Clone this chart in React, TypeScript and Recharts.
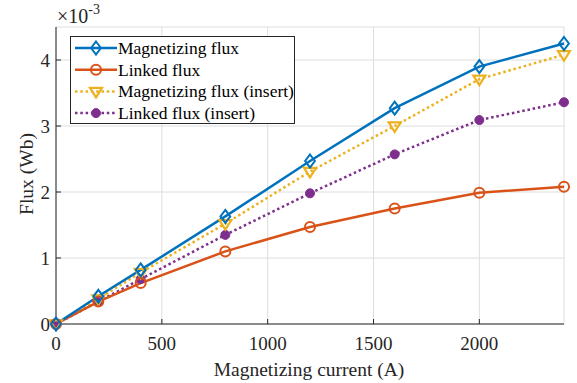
import { LineChart, Line, XAxis, YAxis, CartesianGrid } from "recharts";

// magnetizing current (A)
const currents = [0, 200, 400, 800, 1200, 1600, 2000, 2400];
// flux values, in units of 1e-3 Wb
const magnetizingFlux = [0, 0.42, 0.82, 1.63, 2.47, 3.27, 3.9, 4.25];
const linkedFlux = [0, 0.34, 0.62, 1.1, 1.47, 1.75, 1.99, 2.08];
const magnetizingFluxInsert = [0, 0.38, 0.78, 1.52, 2.31, 3.0, 3.71, 4.08];
const linkedFluxInsert = [0, 0.34, 0.68, 1.35, 1.98, 2.57, 3.09, 3.36];

const xTicks = [0, 500, 1000, 1500, 2000];
const yTicks = [0, 1, 2, 3, 4];

const seriesNames = [
  "Magnetizing flux",
  "Linked flux",
  "Magnetizing flux (insert)",
  "Linked flux (insert)",
];

const BLUE = "#0072BD";
const ORANGE = "#D95319";
const YELLOW = "#EDB120";
const PURPLE = "#7E2F8E";
const AXIS = "#262626";
const FONT = "Liberation Serif, Times New Roman, serif";
const DOTTED = "2.5 2.8";

const data = currents.map((c, i) => ({
  current: c,
  mag: magnetizingFlux[i],
  linked: linkedFlux[i],
  magIns: magnetizingFluxInsert[i],
  linkedIns: linkedFluxInsert[i],
}));

type Shape = "diamond" | "circle" | "triangle" | "dot";

function marker(shape: Shape, color: string, cx: number, cy: number, key?: string) {
  if (shape === "diamond") {
    const r = 6.5;
    return (
      <path
        key={key}
        d={`M${cx},${cy - r} L${cx + r * 0.75},${cy} L${cx},${cy + r} L${cx - r * 0.75},${cy} Z`}
        fill="none"
        stroke={color}
        strokeWidth={2}
      />
    );
  }
  if (shape === "circle") {
    return <circle key={key} cx={cx} cy={cy} r={5} fill="none" stroke={color} strokeWidth={2} />;
  }
  if (shape === "triangle") {
    const r = 6;
    return (
      <path
        key={key}
        d={`M${cx - r},${cy - r * 0.6} L${cx + r},${cy - r * 0.6} L${cx},${cy + r} Z`}
        fill="none"
        stroke={color}
        strokeWidth={2.2}
      />
    );
  }
  return <circle key={key} cx={cx} cy={cy} r={4.5} fill={color} stroke={color} />;
}

const dotFn = (shape: Shape, color: string) => (p: any) =>
  marker(shape, color, p.cx, p.cy, `${shape}-${p.index}`);

const legendItems: { name: string; color: string; shape: Shape; dash?: string }[] = [
  { name: seriesNames[0], color: BLUE, shape: "diamond" },
  { name: seriesNames[1], color: ORANGE, shape: "circle" },
  { name: seriesNames[2], color: YELLOW, shape: "triangle", dash: DOTTED },
  { name: seriesNames[3], color: PURPLE, shape: "dot", dash: DOTTED },
];

const textStyle = { fontFamily: FONT };

function LegendBox() {
  return (
    <div
      style={{
        position: "absolute",
        left: 70,
        top: 36,
        width: 225,
        height: 88,
        background: "#fff",
        border: `1px solid ${AXIS}`,
        boxSizing: "border-box",
      }}
    >
      <svg width={223} height={86} style={{ position: "absolute", left: 0, top: 0 }}>
        {legendItems.map((it, i) => {
          const y = 11 + i * 21.7;
          return (
            <g key={it.name}>
              <line
                x1={4}
                x2={46}
                y1={y}
                y2={y}
                stroke={it.color}
                strokeWidth={2.5}
                strokeDasharray={it.dash}
              />
              {marker(it.shape, it.color, 25, y)}
              <text x={47} y={y + 6} style={textStyle} fontSize={17.5} fill="#000">
                {it.name}
              </text>
            </g>
          );
        })}
      </svg>
    </div>
  );
}

const emptyTick = () => <g />;

export default function App() {
  return (
    <div
      style={{
        position: "absolute",
        left: 0,
        top: 0,
        width: 577,
        height: 383,
        background: "#fff",
        fontFamily: FONT,
      }}
    >
      <LineChart
        width={577}
        height={383}
        data={data}
        margin={{ top: 27, right: 13, bottom: 0, left: 0 }}
        style={textStyle}
      >
        <CartesianGrid stroke="#dedede" strokeWidth={1} />
        <XAxis
          dataKey="current"
          type="number"
          domain={[0, 2400]}
          ticks={xTicks}
          height={59}
          stroke={AXIS}
          tickSize={-5}
          tickMargin={18}
          tick={{ fill: AXIS, fontSize: 19, style: textStyle }}
          label={{
            content: () => (
              <text x={309} y={376} textAnchor="middle" style={textStyle} fontSize={19.5} fill={AXIS}>
                Magnetizing current (A)
              </text>
            ),
          }}
        />
        <XAxis
          xAxisId="top"
          orientation="top"
          dataKey="current"
          type="number"
          domain={[0, 2400]}
          ticks={xTicks}
          height={0}
          stroke={AXIS}
          tickSize={-5}
          tick={emptyTick}
        />
        <YAxis
          type="number"
          domain={[0, 4.5]}
          ticks={yTicks}
          width={56}
          stroke={AXIS}
          tickSize={-5}
          tickMargin={11}
          tick={{ fill: AXIS, fontSize: 19, style: textStyle }}
          label={{
            content: () => (
              <text
                x={26}
                y={174}
                transform="rotate(-90 26 174)"
                textAnchor="middle"
                dominantBaseline="central"
                style={textStyle}
                fontSize={19.5}
                fill={AXIS}
              >
                Flux (Wb)
              </text>
            ),
          }}
        />
        <YAxis
          yAxisId="right"
          orientation="right"
          type="number"
          domain={[0, 4.5]}
          ticks={yTicks}
          width={0}
          stroke={AXIS}
          tickSize={-5}
          tick={emptyTick}
        />
        <Line
          dataKey="linkedIns"
          name={seriesNames[3]}
          stroke={PURPLE}
          strokeWidth={2.5}
          strokeDasharray={DOTTED}
          dot={dotFn("dot", PURPLE)}
          isAnimationActive={false}
        />
        <Line
          dataKey="magIns"
          name={seriesNames[2]}
          stroke={YELLOW}
          strokeWidth={2.5}
          strokeDasharray={DOTTED}
          dot={dotFn("triangle", YELLOW)}
          isAnimationActive={false}
        />
        <Line
          dataKey="linked"
          name={seriesNames[1]}
          stroke={ORANGE}
          strokeWidth={2.5}
          dot={dotFn("circle", ORANGE)}
          isAnimationActive={false}
        />
        <Line
          dataKey="mag"
          name={seriesNames[0]}
          stroke={BLUE}
          strokeWidth={2.5}
          dot={dotFn("diamond", BLUE)}
          isAnimationActive={false}
        />
      </LineChart>
      <svg width={80} height={30} style={{ position: "absolute", left: 55, top: 0 }}>
        <text x={2} y={23} style={textStyle} fontSize={20} fill={AXIS}>
          ×10
          <tspan dy={-9} fontSize={14}>
            -3
          </tspan>
        </text>
      </svg>
      <LegendBox />
    </div>
  );
}
